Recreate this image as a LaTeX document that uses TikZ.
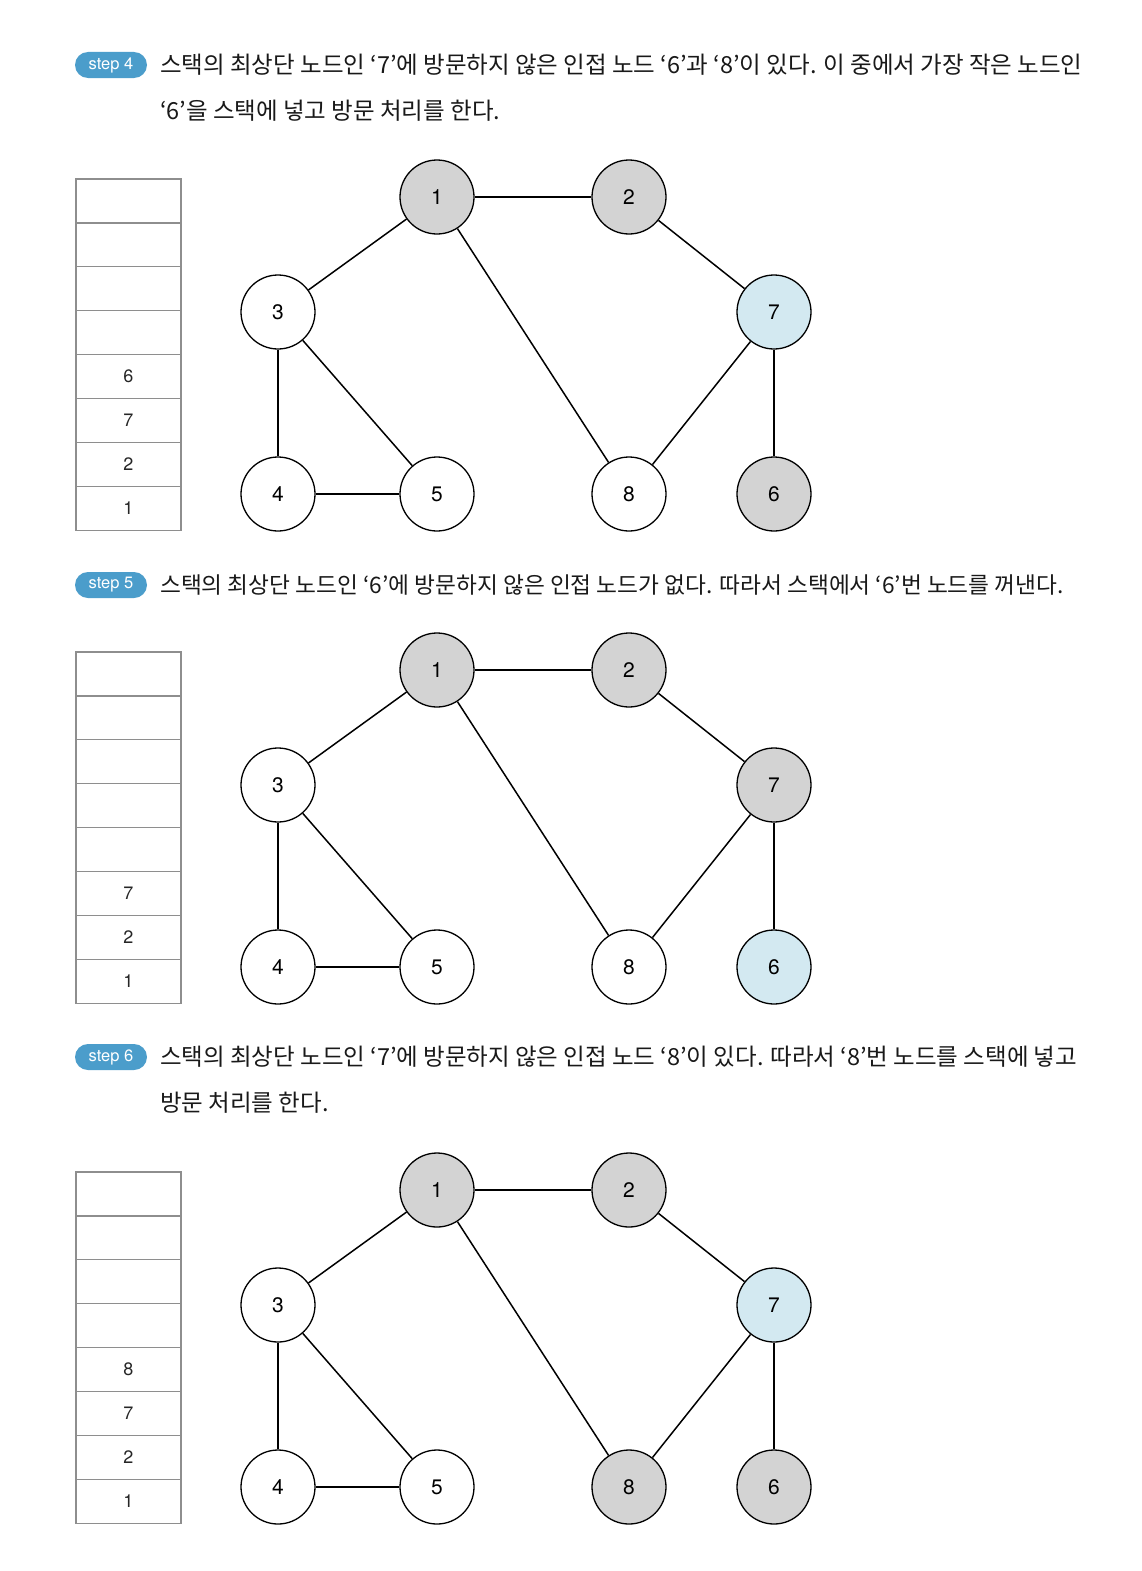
\documentclass[tikz,border=0pt]{standalone}
\usepackage{fontspec}
\newfontfamily\kr{Noto Sans CJK KR}
\newfontfamily\hv{TeX Gyre Heros}
\definecolor{visited}{HTML}{D3D3D3}
\definecolor{current}{HTML}{D3E9F1}
\definecolor{badge}{HTML}{4B9DCB}
\definecolor{cellline}{HTML}{8E8E8E}
\tikzset{
  gnode/.style={circle, draw=black, line width=1.3pt, minimum size=74pt, inner sep=0pt, font=\hv\fontsize{21}{21}\selectfont},
  unv/.style={fill=white},
  vis/.style={fill=visited},
  cur/.style={fill=current},
  edge/.style={line width=1.5pt, black},
  cell/.style={rectangle, draw=cellline, line width=1.1pt, minimum width=105pt, minimum height=44pt, inner sep=0pt, outer sep=0pt},
  cellval/.style={font=\hv\fontsize{18}{18}\selectfont, text=black!85},
  stepbadge/.style={rectangle, rounded corners=13pt, fill=badge, text=white, minimum width=72pt, minimum height=26pt, inner sep=0pt, font=\hv\fontsize{16.5}{16.5}\selectfont},
  desc/.style={anchor=west, inner sep=0pt, font=\kr\fontsize{23.5}{23.5}\selectfont, text=black!90},
}
% One panel: stack on the left, graph on the right.
% #1 name prefix, #2 vertical offset, #3 node/style pairs, #4 stack values bottom-up
\newcommand\dfspanel[4]{%
  \begin{scope}[shift={(0,#2)}]
    \coordinate (#1p1) at (437,197);
    \coordinate (#1p2) at (629,197);
    \coordinate (#1p3) at (278,312);
    \coordinate (#1p7) at (774,312);
    \coordinate (#1p4) at (278,494);
    \coordinate (#1p5) at (437,494);
    \coordinate (#1p8) at (629,494);
    \coordinate (#1p6) at (774,494);
    \foreach \i/\st in {#3} {
      \node[gnode,\st] (#1n\i) at (#1p\i) {\i};
    }
    \foreach \a/\b in {1/2,1/3,1/8,2/7,3/4,3/5,4/5,7/8,7/6} {
      \draw[edge] (#1n\a) -- (#1n\b);
    }
    \foreach \k in {0,...,7} {
      \node[cell] (#1c\k) at (128.5,{201+43.875*\k}) {};
    }
    \foreach \v [count=\k from 0] in {#4} {
      \pgfmathtruncatemacro\row{7-\k}
      \node[cellval] at (#1c\row.center) {\v};
    }
  \end{scope}
}
\begin{document}
\begin{tikzpicture}[x=1pt,y=-1pt]
  \useasboundingbox[fill=white] (0,0) rectangle (1141,1571);

  % step 4
  \node[stepbadge] (b4) at (111,65) {step 4};
  \node[desc] (t4a) at (160,65) {스택의 최상단 노드인 ‘7’에 방문하지 않은 인접 노드 ‘6’과 ‘8’이 있다. 이 중에서 가장 작은 노드인};
  \node[desc] (t4b) at (160,111) {‘6’을 스택에 넣고 방문 처리를 한다.};
  \dfspanel{a}{0}{1/vis,2/vis,3/unv,7/cur,4/unv,5/unv,8/unv,6/vis}{1,2,7,6}

  % step 5
  \node[stepbadge] (b5) at (111,585) {step 5};
  \node[desc, font=\kr\fontsize{22.7}{22.7}\selectfont] (t5a) at (160,585) {스택의 최상단 노드인 ‘6’에 방문하지 않은 인접 노드가 없다. 따라서 스택에서 ‘6’번 노드를 꺼낸다.};
  \dfspanel{b}{473}{1/vis,2/vis,3/unv,7/vis,4/unv,5/unv,8/unv,6/cur}{1,2,7}

  % step 6
  \node[stepbadge] (b6) at (111,1057) {step 6};
  \node[desc] (t6a) at (160,1057) {스택의 최상단 노드인 ‘7’에 방문하지 않은 인접 노드 ‘8’이 있다. 따라서 ‘8’번 노드를 스택에 넣고};
  \node[desc] (t6b) at (160,1103) {방문 처리를 한다.};
  \dfspanel{c}{993}{1/vis,2/vis,3/unv,7/cur,4/unv,5/unv,8/vis,6/vis}{1,2,7,8}
\end{tikzpicture}
\end{document}
